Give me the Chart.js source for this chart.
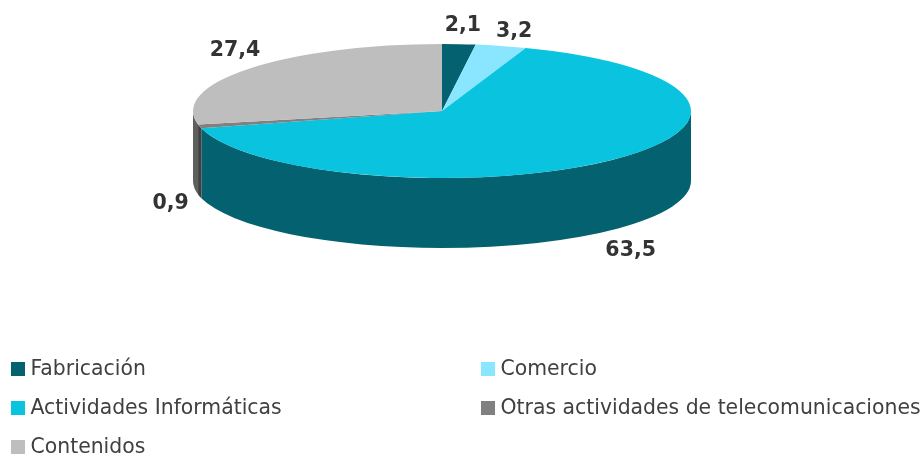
<!DOCTYPE html>
<html><head><meta charset="utf-8">
<script src="https://cdn.jsdelivr.net/npm/chart.js@4"></script>
<style>
html,body{margin:0;padding:0;background:#fff;width:922px;height:457px;overflow:hidden}
#wrap{position:relative;width:922px;height:457px}
canvas{position:absolute;left:0;top:0}
#legend{position:absolute;left:0;top:0;width:922px;height:457px;font:20.4px "DejaVu Sans",sans-serif;color:#404040}
.item{position:absolute;white-space:nowrap;line-height:24px;height:24px}
.sw{position:absolute;left:0;top:6px;width:14px;height:14px}
.tx{position:absolute;left:19.5px;top:0}
</style></head><body>
<div id="wrap"><canvas id="c" width="922" height="457"></canvas><div id="legend"></div></div>
<script>
const categories = ["Fabricación","Comercio","Actividades Informáticas","Otras actividades de telecomunicaciones","Contenidos"];
const values = [2.1,3.2,63.5,0.9,27.4];
const tickLabels = ["2,1","3,2","63,5","0,9","27,4"];
const topColors = ["#04616F","#8AE6FF","#0AC3DF","#808080","#BEBEBE"];
const wallColors = ["#034650","#6AB0C4","#04616F","#404040","#5F5F5F"];

const CY = 111, RX = 249, RY = 67, DEPTH = 70;
const labelOffset = [[4,-18],[13,-14],[20,20],[-29,7],[-14,-18]];

const pie3d = {
  id:'pie3d',
  beforeDatasetDraw(chart){
    const ctx = chart.ctx, arcs = chart.getDatasetMeta(0).data;
    arcs.forEach((a,i)=>{
      const s = Math.max(a.startAngle,0), e = Math.min(a.endAngle,Math.PI);
      if(e<=s) return;
      ctx.beginPath();
      ctx.ellipse(a.x,CY+DEPTH,RX,RY,0,s,e);
      ctx.ellipse(a.x,CY,RX,RY,0,e,s,true);
      ctx.closePath();
      ctx.fillStyle = wallColors[i];
      ctx.fill();
    });
    const a0 = arcs[0];
    ctx.save();
    ctx.translate(0,CY);
    ctx.scale(1,RY/RX);
    ctx.translate(0,-a0.y);
  },
  afterDatasetDraw(chart){
    const ctx = chart.ctx;
    ctx.restore();
    const arcs = chart.getDatasetMeta(0).data;
    ctx.save();
    ctx.font = 'bold 20.5px "DejaVu Sans",sans-serif';
    ctx.fillStyle = '#333333';
    ctx.textAlign = 'center';
    ctx.textBaseline = 'middle';
    arcs.forEach((a,i)=>{
      const m = (a.startAngle+a.endAngle)/2;
      const front = Math.sin(m)>0 ? DEPTH : 0;
      const x = a.x+RX*Math.cos(m)+labelOffset[i][0];
      const y = CY+RY*Math.sin(m)+front+labelOffset[i][1];
      ctx.fillText(tickLabels[i],x,y);
    });
    ctx.restore();
  }
};

new Chart(document.getElementById('c'),{
  type:'pie',
  data:{labels:categories,datasets:[{data:values,backgroundColor:topColors,borderWidth:0,radius:RX,clip:false}]},
  options:{responsive:false,animation:false,
    layout:{padding:{right:38}},
    plugins:{legend:{display:false},tooltip:{enabled:false}}},
  plugins:[pie3d]
});

const legendPos = [[11,356],[481,356],[11,395],[481,395],[11,434]];
const lg = document.getElementById('legend');
categories.forEach((c,i)=>{
  const d = document.createElement('div');
  d.className='item';
  d.style.left=legendPos[i][0]+'px';
  d.style.top=legendPos[i][1]+'px';
  d.innerHTML='<span class="sw" style="background:'+topColors[i]+'"></span><span class="tx">'+c+'</span>';
  lg.appendChild(d);
});
</script>
</body></html>
